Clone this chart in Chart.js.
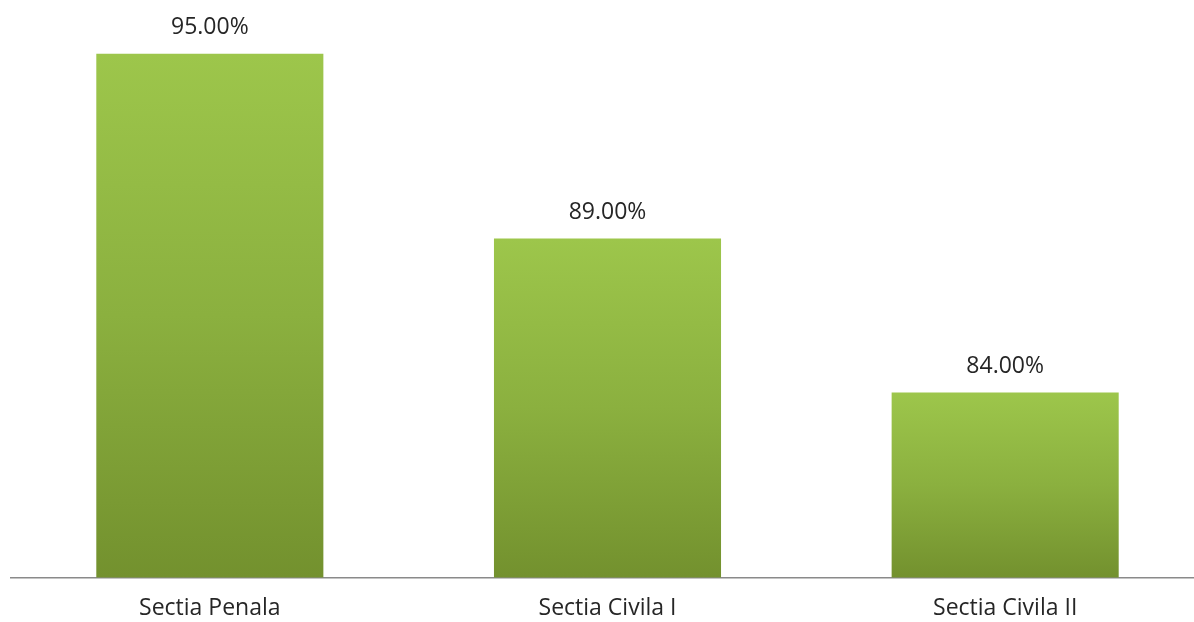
<!DOCTYPE html>
<html>
<head>
<meta charset="utf-8">
<script src="https://cdn.jsdelivr.net/npm/chart.js@4/dist/chart.umd.min.js"></script>
<style>
  html, body { margin: 0; padding: 0; background: #fff; overflow: hidden; }
  #wrap { position: relative; width: 1204px; height: 639px; }
</style>
</head>
<body>
<div id="wrap"><canvas id="chart"></canvas></div>
<script>
// date
const categories = ['Sectia Penala', 'Sectia Civila I', 'Sectia Civila II'];
const values = [95, 89, 84];
const valueLabels = ['95.00%', '89.00%', '84.00%'];

const FONT = '"Open Sans", sans-serif';

// gradient pe fiecare bara, de sus (deschis) spre baza (inchis)
function barGradient(ctx) {
  const chart = ctx.chart;
  if (!chart.chartArea || !chart.scales.y) return '#8cb23f';
  const y = chart.scales.y;
  const top = y.getPixelForValue(values[ctx.dataIndex]);
  const bottom = chart.chartArea.bottom;
  const g = chart.ctx.createLinearGradient(0, top, 0, bottom);
  g.addColorStop(0, '#9dc64b');
  g.addColorStop(0.5, '#8bb03f');
  g.addColorStop(1, '#73912e');
  return g;
}

// etichete deasupra barelor
const valueLabelPlugin = {
  id: 'valueLabels',
  afterDatasetsDraw(chart) {
    const c = chart.ctx;
    const meta = chart.getDatasetMeta(0);
    c.save();
    c.font = '23px ' + FONT;
    c.fillStyle = '#262626';
    c.textAlign = 'center';
    c.textBaseline = 'middle';
    meta.data.forEach((bar, i) => {
      c.fillText(valueLabels[i], bar.x, bar.y - 26);
    });
    c.restore();
  }
};

new Chart(document.getElementById('chart'), {
  type: 'bar',
  data: {
    labels: categories,
    datasets: [{
      data: values,
      backgroundColor: barGradient,
      borderWidth: 0,
      barPercentage: 0.571,
      categoryPercentage: 1
    }]
  },
  options: {
    responsive: true,
    maintainAspectRatio: false,
    animation: false,
    layout: { padding: { left: 11, right: 0, top: 23, bottom: 0 } },
    plugins: { legend: { display: false }, tooltip: { enabled: false } },
    scales: {
      y: {
        display: false,
        min: 78,
        max: 96
      },
      x: {
        grid: { display: false, drawTicks: false },
        border: { display: true, color: '#8a8a8a', width: 1.5 },
        ticks: {
          color: '#262626',
          padding: 17,
          font: { family: FONT, size: 23 }
        }
      }
    }
  },
  plugins: [valueLabelPlugin]
});
</script>
</body>
</html>
